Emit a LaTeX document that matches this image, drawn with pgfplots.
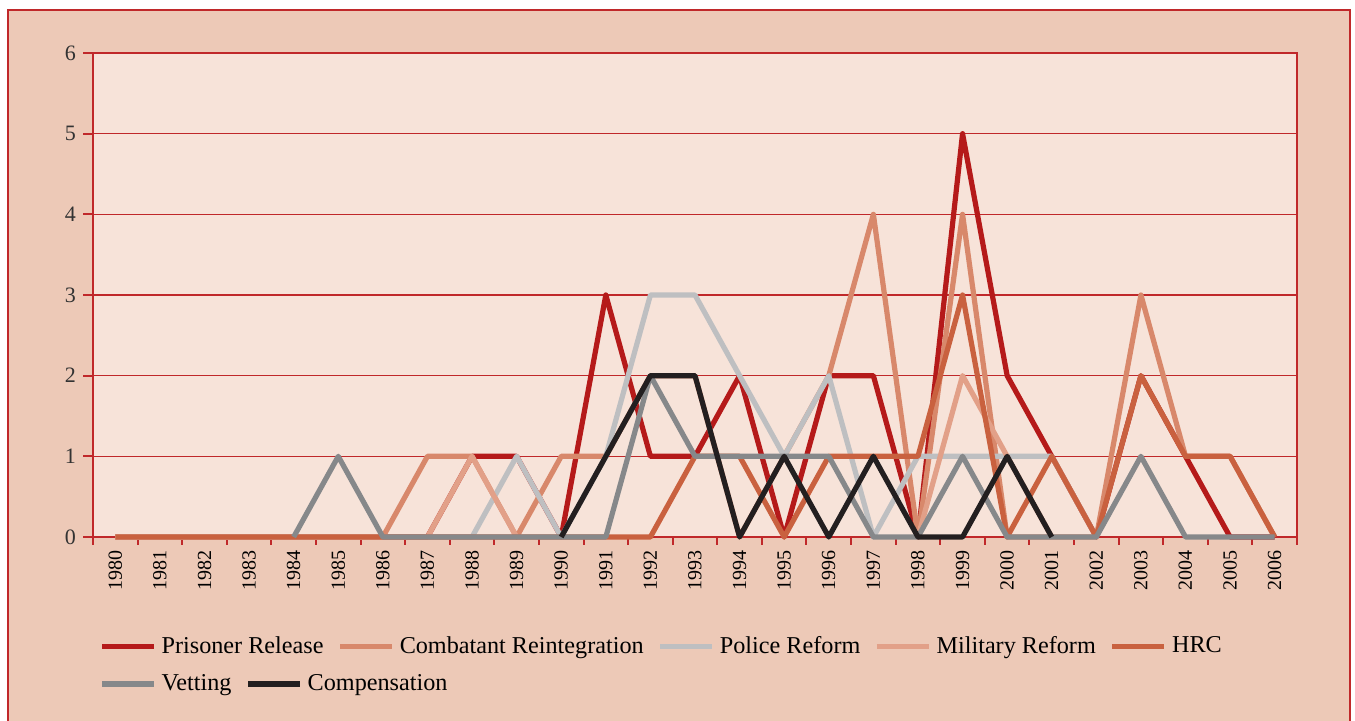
\documentclass[border=0pt]{standalone}
\usepackage{fontspec}
\setmainfont{Liberation Serif}
\usepackage{pgfplots}
\pgfplotsset{compat=1.18}
\definecolor{framebg}{HTML}{EDC9B7}
\definecolor{plotbg}{HTML}{F7E3D9}
\definecolor{axisred}{HTML}{C0282A}
\definecolor{cprisoner}{HTML}{B51A1A}
\definecolor{ccombat}{HTML}{D8886B}
\definecolor{cpolice}{HTML}{BEBFC1}
\definecolor{cmilitary}{HTML}{E2A088}
\definecolor{chrc}{HTML}{C9613F}
\definecolor{cvetting}{HTML}{86888A}
\definecolor{ccomp}{HTML}{231F20}
\pgfplotsset{
  mylines/.style={line width=2.6pt, line join=round},
  common/.style={
    at={(46.5pt,92pt)}, anchor=south west, scale only axis,
    width=602pt, height=242pt,
    xmin=1979.5, xmax=2006.5, ymin=0, ymax=6,
    clip=false, unbounded coords=jump,
    legend image code/.code={\draw[##1, line width=2.6pt] (0pt,0pt) -- (26pt,0pt);},
    legend style={draw=none, fill=none, anchor=north west,
      at={(axis description cs:0,0)}, font=\fontsize{12.1}{14}\selectfont,
      nodes={inner sep=2.5pt}},
  },
}
\begin{document}
\begin{tikzpicture}[x=1pt,y=1pt]
\useasboundingbox (0,0) rectangle (677.5,360.5);
\fill[white] (0,0) rectangle (677.5,360.5);
\filldraw[fill=framebg, draw=axisred, line width=1pt] (4,-5) rectangle (675,355.5);
\begin{axis}[common,
  axis background/.style={fill=plotbg},
  axis line style={draw=axisred, line width=1pt},
  ytick={0,...,6},
  ymajorgrids, grid style={draw=axisred, line width=0.7pt},
  xtick={1980,...,2006},
  minor xtick={1979.5,1980.5,...,2006.5},
  xtick pos=bottom, ytick pos=left,
  tick align=outside,
  major tick length=5pt, minor tick length=4pt,
  tick style={draw=axisred, line width=1pt},
  major x tick style={draw=none},
  /pgf/number format/assume math mode=true,
  /pgf/number format/1000 sep={},
  x tick label style={rotate=90, anchor=east, font=\fontsize{10}{12}\selectfont, xshift=2pt},
  y tick label style={font=\fontsize{11}{13}\selectfont, color=black!80},
  legend columns=5,
  legend style={xshift=0pt, yshift=-45pt,
    /tikz/every even column/.append style={column sep=4.5pt}},
]
\addplot[mylines, cprisoner] coordinates {(1980,0)(1981,0)(1982,0)(1983,0)(1984,0)(1985,0)(1986,0)(1987,0)(1988,1)(1989,1)(1990,0)(1991,3)(1992,1)(1993,1)(1994,2)(1995,0)(1996,2)(1997,2)(1998,0)(1999,5)(2000,2)(2001,1)(2002,0)(2003,2)(2004,1)(2005,0)(2006,0)};
\addlegendentry{Prisoner Release}
\addplot[mylines, ccombat] coordinates {(1980,0)(1981,0)(1982,0)(1983,0)(1984,0)(1985,0)(1986,0)(1987,1)(1988,1)(1989,0)(1990,1)(1991,1)(1992,2)(1993,2)(1994,0)(1995,1)(1996,2)(1997,4)(1998,0)(1999,4)(2000,0)(2001,0)(2002,0)(2003,3)(2004,1)(2005,1)(2006,0)};
\addlegendentry{Combatant Reintegration}
\addplot[mylines, cpolice] coordinates {(1980,0)(1981,0)(1982,0)(1983,0)(1984,0)(1985,0)(1986,0)(1987,0)(1988,0)(1989,1)(1990,0)(1991,1)(1992,3)(1993,3)(1994,2)(1995,1)(1996,2)(1997,0)(1998,1)(1999,1)(2000,1)(2001,1)(2002,0)};
\addlegendentry{Police Reform}
\addplot[mylines, cmilitary] coordinates {(1980,0)(1981,0)(1982,0)(1983,0)(1984,0)(1985,0)(1986,0)(1987,0)(1988,1)(1989,0)(1990,nan)(1998,0)(1999,2)(2000,1)(2001,0)(2002,0)};
\addlegendentry{Military Reform}
\addplot[mylines, chrc] coordinates {(1980,0)(1981,0)(1982,0)(1983,0)(1984,0)(1985,0)(1986,0)(1987,0)(1988,0)(1989,0)(1990,0)(1991,0)(1992,0)(1993,1)(1994,1)(1995,0)(1996,1)(1997,1)(1998,1)(1999,3)(2000,0)(2001,1)(2002,0)(2003,2)(2004,1)(2005,1)(2006,0)};
\addlegendentry{HRC}
\end{axis}
\begin{axis}[common, hide axis,
  legend columns=2,
  legend style={xshift=0pt, yshift=-64pt,
    /tikz/every even column/.append style={column sep=4.5pt}},
]
\addplot[mylines, cvetting] coordinates {(1984,0)(1985,1)(1986,0)(1987,0)(1988,0)(1989,0)(1990,0)(1991,0)(1992,2)(1993,1)(1994,1)(1995,1)(1996,1)(1997,0)(1998,0)(1999,1)(2000,0)(2001,0)(2002,0)(2003,1)(2004,0)(2005,0)(2006,0)};
\addlegendentry{Vetting}
\addplot[mylines, ccomp] coordinates {(1990,0)(1991,1)(1992,2)(1993,2)(1994,0)(1995,1)(1996,0)(1997,1)(1998,0)(1999,0)(2000,1)(2001,0)};
\addlegendentry{Compensation}
\end{axis}
\end{tikzpicture}
\end{document}
